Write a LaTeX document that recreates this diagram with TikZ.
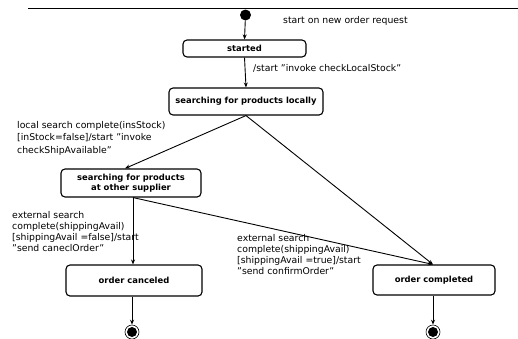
\documentclass[tikz,border=0pt]{standalone}
\usepackage{fontspec}
\setmainfont{DejaVu Sans}
\usetikzlibrary{arrows.meta,calc}
\begin{document}
\begin{tikzpicture}[x=1pt,y=-1pt,
  statebox/.style={draw,line width=1.1pt,rounded corners=4pt,inner sep=0pt,font=\fontsize{8.4}{10}\selectfont\bfseries,align=center},
  lbl/.style={inner sep=0pt,font=\fontsize{9.3}{11}\selectfont,align=left},
  conn/.style={line width=0.9pt,-{Stealth[length=5pt,width=4pt]}},
  initdot/.style={circle,fill=black,inner sep=0pt,minimum size=11pt},
  finalring/.style={circle,draw,line width=0.6pt,fill=white,inner sep=0pt,minimum size=14pt}]
\useasboundingbox (0,0) rectangle (518,338);
\draw[line width=0.8pt] (28,8) -- (518,8);
\node[initdot] (init) at (245.5,15) {};
\node[statebox,minimum width=123pt,minimum height=17pt] (started) at (244.5,48.5) {started};
\node[statebox,minimum width=154pt,minimum height=27pt] (local) at (246,101.5) {searching for products locally};
\node[statebox,minimum width=140pt,minimum height=28pt] (supplier) at (131,183) {searching for products\\at other supplier};
\node[statebox,minimum width=136pt,minimum height=31pt] (canceled) at (134,280.5) {order canceled};
\node[statebox,minimum width=122pt,minimum height=30pt] (completed) at (434,280) {order completed};
\node[finalring] (fin1) at (132,332) {};
\node[finalring] (fin2) at (433,332) {};
\fill (fin1.center) circle (5pt);
\fill (fin2.center) circle (5pt);

\node[lbl,anchor=west] (l0) at (283,21) {start on new order request};
\node[lbl,anchor=west] (l1) at (253,68) {/start "invoke checkLocalStock"};
\node[lbl,anchor=north west,font=\fontsize{9.3}{12.5}\selectfont] (l2) at (17,121) {local search complete(insStock)\\{}[inStock=false]/start "invoke\\checkShipAvailable"};
\node[lbl,anchor=north west] (l3) at (12,211) {external search\\complete(shippingAvail)\\{}[shippingAvail =false]/start\\"send caneclOrder"};
\node[lbl,anchor=north west] (l4) at (237,234) {external search\\complete(shippingAvail)\\{}[shippingAvail =true]/start\\"send confirmOrder"};

\draw[conn] (init) -- (started.north);
\draw[conn] (started.south) -- (local.north);
\draw[conn] (local.south) -- ([xshift=-6pt]supplier.north);
\draw[conn] (local.south) -- ([xshift=-1pt]completed.north);
\draw[conn] ([xshift=2pt]supplier.south) -- ([xshift=-1pt]canceled.north);
\draw[conn] ([xshift=2pt]supplier.south) -- ([xshift=-1pt]completed.north);
\draw[conn] ([xshift=-2pt]canceled.south) -- (fin1.north);
\draw[conn] ([xshift=-1pt]completed.south) -- (fin2.north);
\end{tikzpicture}
\end{document}
